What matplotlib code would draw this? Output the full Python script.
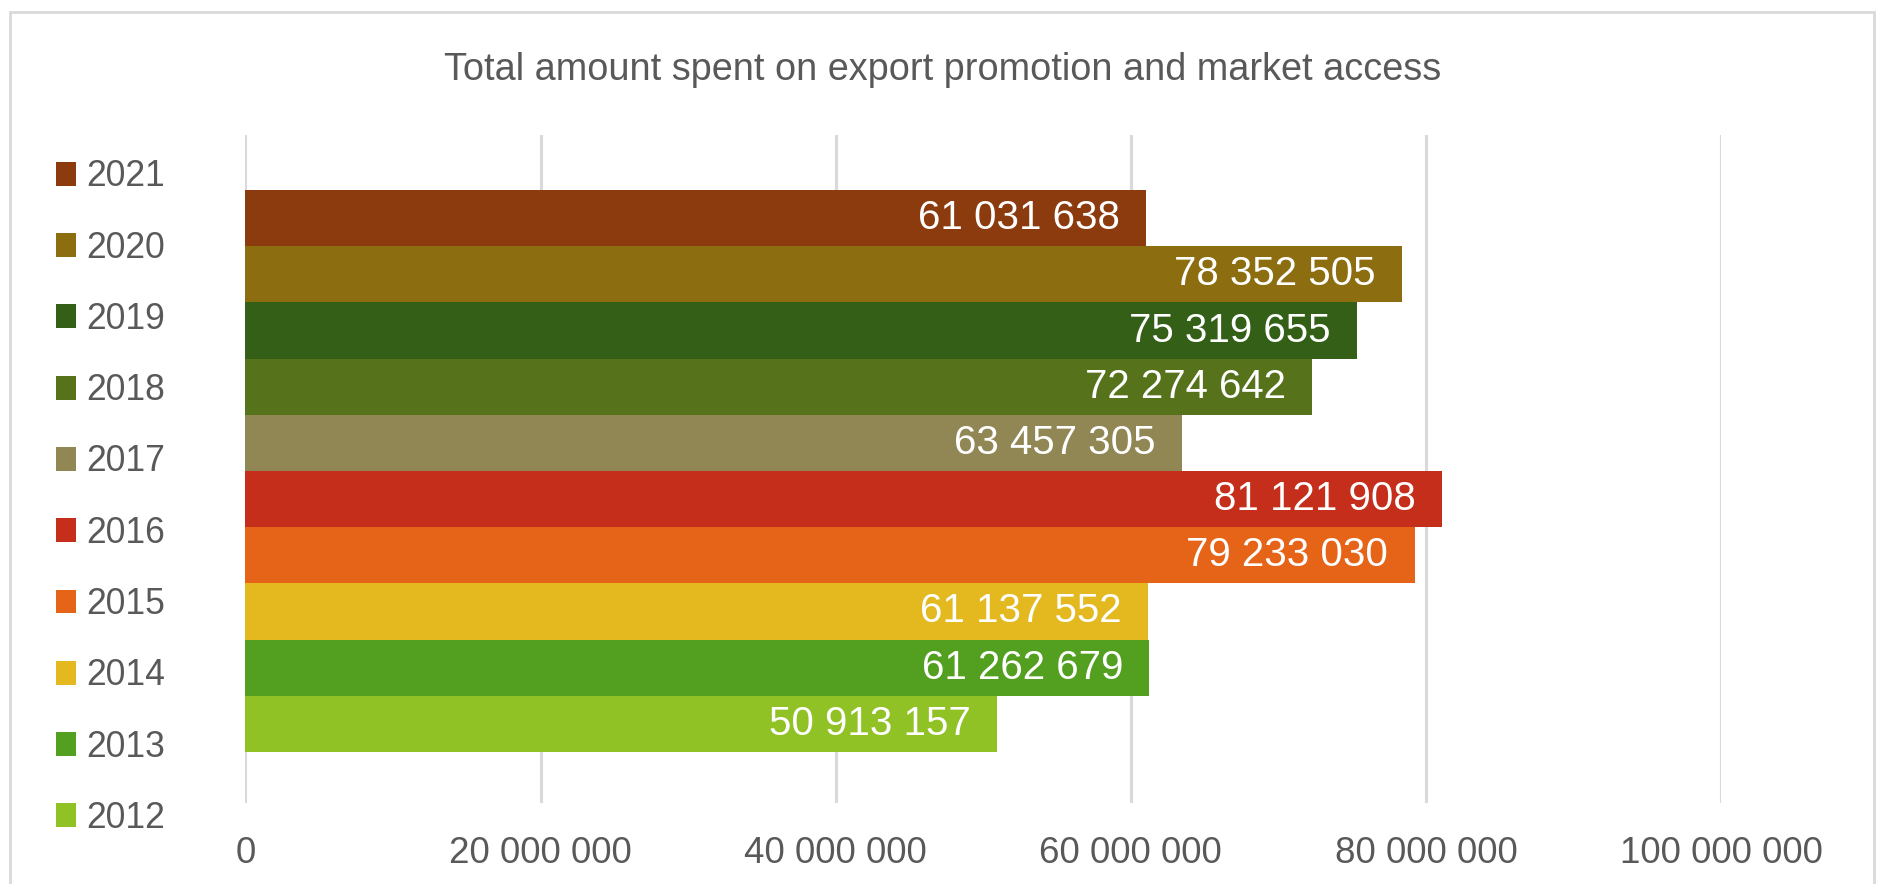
import matplotlib
matplotlib.use("Agg")
import matplotlib.pyplot as plt
from matplotlib.patches import Patch, Rectangle

# amount spent per year (single category, one series per year)
years = ["2012", "2013", "2014", "2015", "2016", "2017", "2018", "2019", "2020", "2021"]
amounts = [50913157, 61262679, 61137552, 79233030, 81121908,
           63457305, 72274642, 75319655, 78352505, 61031638]
colors = ["#90C226", "#53A021", "#E3B91F", "#E66418", "#C42E1A",
          "#918755", "#56731B", "#335F16", "#8C6E10", "#8C3B0E"]
xticks = [0, 20000000, 40000000, 60000000, 80000000, 100000000]
title = "Total amount spent on export promotion and market access"

plt.rcParams["font.family"] = ["Liberation Sans", "DejaVu Sans"]
grey = "#595959"

def fmt(v):
    return f"{v:,}".replace(",", " ")

fig = plt.figure(figsize=(18.78, 8.84), dpi=100)
ax = fig.add_axes([0.1307, 0.0916, 0.7857, 0.7557])

n = len(years)
for i, (yr, v, c) in enumerate(zip(years, amounts, colors)):
    ypos = i - (n - 1) / 2
    ax.barh(ypos, v, height=1.0, color=c, zorder=2)
    ax.annotate(fmt(v), xy=(v, ypos), xytext=(-19, 0), textcoords="offset points",
                ha="right", va="center", color="white", fontsize=29, zorder=3)

ax.set_xlim(0, 100000000)
ax.set_ylim(-5.91, 5.98)
ax.set_xticks(xticks)
ax.set_xticklabels([fmt(t) for t in xticks], color=grey, fontsize=26.5)
ax.tick_params(axis="x", length=0, pad=23.5)
ax.set_yticks([])
for s in ax.spines.values():
    s.set_visible(False)
ax.grid(axis="x", color="#d9d9d9", lw=2.2, zorder=0)
ax.set_axisbelow(True)

fig.text(0.502, 0.9095, title, ha="center", va="baseline", fontsize=27.3, color=grey)

handles = [Patch(facecolor=c, edgecolor="none") for c in colors[::-1]]
fig.legend(handles, years[::-1], loc="upper left", bbox_to_anchor=(0.030, 0.8197),
           frameon=False, fontsize=25.6, labelcolor=grey,
           handlelength=0.54, handleheight=0.66, handletextpad=0.3,
           labelspacing=1.02, borderpad=0, borderaxespad=0)

fig.patches.append(Rectangle((0.0053, -0.02), 0.9926, 1.0064, transform=fig.transFigure,
                             fill=False, edgecolor="#d9d9d9", lw=2))

fig.savefig("out.png", dpi=100)
